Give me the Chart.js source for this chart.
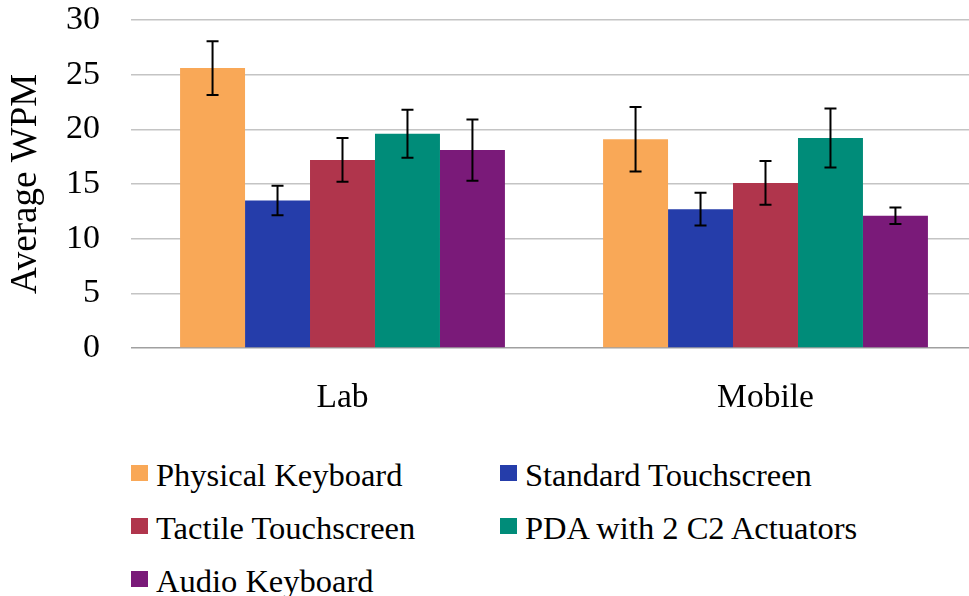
<!DOCTYPE html>
<html>
<head>
<meta charset="utf-8">
<script src="https://cdn.jsdelivr.net/npm/chart.js@4/dist/chart.umd.min.js"></script>
<style>
  html, body { margin: 0; padding: 0; background: #fff; overflow: hidden; width: 969px; height: 596px; }
  #wrap { position: absolute; left: 0; top: 0; width: 980px; height: 430px; }
  #legend { position: absolute; left: 131px; top: 449px; width: 780px;
    font-family: "Liberation Serif", serif; font-size: 32.5px; color: #000;
    display: grid; grid-template-columns: 369px 400px; grid-auto-rows: 53px; }
  .item { display: flex; align-items: center; white-space: nowrap; }
  .sw { width: 17px; height: 16px; margin-right: 8px; flex: none; position: relative; top: -3px; }
</style>
</head>
<body>
<div id="wrap"><canvas id="chart" width="980" height="430"></canvas></div>
<div id="legend"></div>
<script>
// categories and series
const categories = ["Lab", "Mobile"];
const seriesNames = ["Physical Keyboard", "Standard Touchscreen", "Tactile Touchscreen", "PDA with 2 C2 Actuators", "Audio Keyboard"];
const seriesColors = ["#F9A857", "#253DAA", "#B0354C", "#008C79", "#7A1A79"];

// average WPM per series (Lab, Mobile)
const physicalKeyboard = [25.6, 19.1];
const standardTouchscreen = [13.5, 12.7];
const tactileTouchscreen = [17.2, 15.1];
const pdaActuators = [19.6, 19.2];
const audioKeyboard = [18.1, 12.1];

// error bar half-widths
const physicalKeyboardErr = [2.45, 2.95];
const standardTouchscreenErr = [1.35, 1.5];
const tactileTouchscreenErr = [2.0, 2.0];
const pdaActuatorsErr = [2.2, 2.7];
const audioKeyboardErr = [2.8, 0.75];

const yTicks = [0, 5, 10, 15, 20, 25, 30];

const values = [physicalKeyboard, standardTouchscreen, tactileTouchscreen, pdaActuators, audioKeyboard];
const errors = [physicalKeyboardErr, standardTouchscreenErr, tactileTouchscreenErr, pdaActuatorsErr, audioKeyboardErr];

const FONT = "'Liberation Serif', serif";

const errorBars = {
  id: "errorBars",
  afterDatasetsDraw(chart) {
    const ctx = chart.ctx;
    const y = chart.scales.y;
    ctx.save();
    ctx.strokeStyle = "#000";
    ctx.lineWidth = 2;
    chart.data.datasets.forEach((ds, i) => {
      const meta = chart.getDatasetMeta(i);
      meta.data.forEach((bar, j) => {
        const v = ds.data[j], e = ds.errors[j];
        const top = y.getPixelForValue(v + e);
        const bot = y.getPixelForValue(v - e);
        ctx.beginPath();
        ctx.moveTo(bar.x, top); ctx.lineTo(bar.x, bot);
        ctx.moveTo(bar.x - 6, top); ctx.lineTo(bar.x + 6, top);
        ctx.moveTo(bar.x - 6, bot); ctx.lineTo(bar.x + 6, bot);
        ctx.stroke();
      });
    });
    ctx.restore();
  }
};

const chart = new Chart(document.getElementById("chart"), {
  type: "bar",
  data: {
    labels: categories,
    datasets: seriesNames.map((name, i) => ({
      label: name,
      data: values[i],
      errors: errors[i],
      backgroundColor: seriesColors[i],
      borderWidth: 0,
      barPercentage: 1,
      categoryPercentage: 0.768
    }))
  },
  options: {
    responsive: false,
    animation: false,
    layout: { padding: { top: 20, right: 3, left: 0, bottom: 0 } },
    plugins: { legend: { display: false }, tooltip: { enabled: false } },
    scales: {
      x: {
        grid: { display: false },
        border: { display: false },
        ticks: { color: "#000", font: { family: FONT, size: 33.5 }, padding: 22 },
        afterFit(s) { s.height = 82; }
      },
      y: {
        min: 0, max: 30,
        afterBuildTicks(s) { s.ticks = yTicks.map(v => ({ value: v })); },
        grid: { drawTicks: false, lineWidth: 1.5, color: c => c.tick && c.tick.value === 0 ? "#a0a0a0" : "#c4c4c4" },
        border: { display: false },
        ticks: { color: "#000", font: { family: FONT, size: 34, lineHeight: 1.1 }, padding: 31 },
        title: { display: true, text: "Average WPM", color: "#000", font: { family: FONT, size: 37, lineHeight: 1 }, padding: { top: 8, bottom: 0 } },
        afterFit(s) { s.width = 131; s.paddingTop = 0; s.paddingBottom = 0; }
      }
    }
  },
  plugins: [errorBars]
});

// legend in two columns
const legend = document.getElementById("legend");
seriesNames.forEach((name, i) => {
  const item = document.createElement("div");
  item.className = "item";
  const sw = document.createElement("span");
  sw.className = "sw";
  sw.style.background = seriesColors[i];
  item.appendChild(sw);
  item.appendChild(document.createTextNode(name));
  legend.appendChild(item);
});
</script>
</body>
</html>
